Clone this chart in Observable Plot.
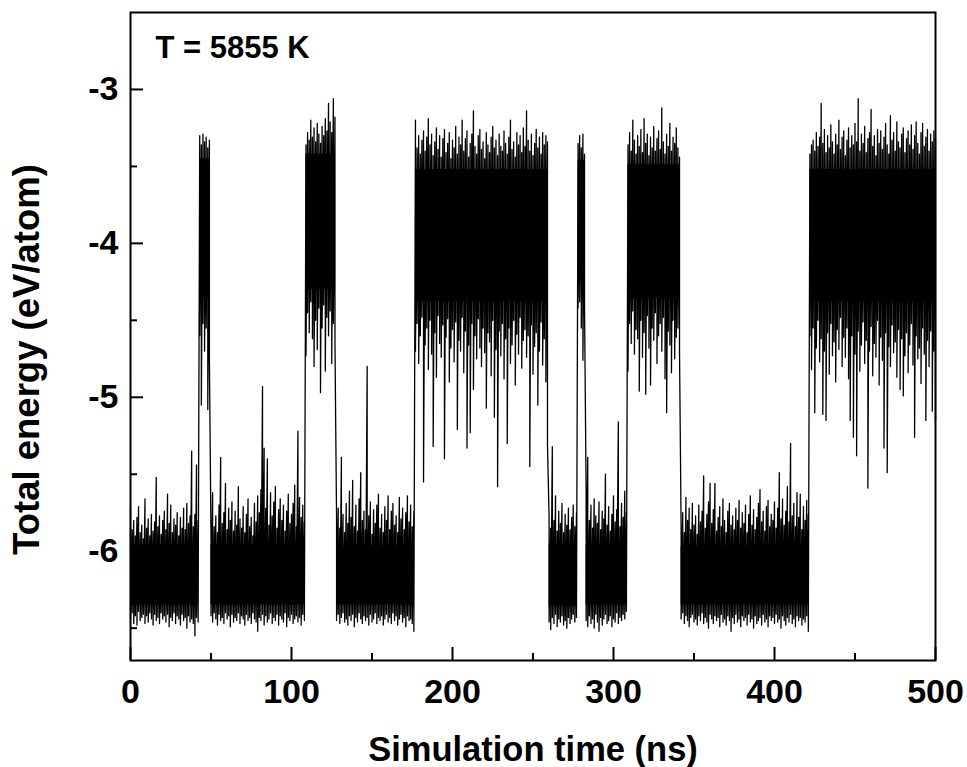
<!DOCTYPE html>
<html>
<head>
<meta charset="utf-8">
<script src="https://cdn.jsdelivr.net/npm/d3@7"></script>
<script src="https://cdn.jsdelivr.net/npm/@observablehq/plot@0.6"></script>
<style>
  html, body { margin: 0; padding: 0; background: #fff; }
  #chart svg { display: block; }
</style>
</head>
<body>
<div id="chart"></div>
<script>
// ---- Data (1 ns sampling; each sample = max & min of the trace in that ns) ----
// Segments alternate low state (~ -6.15 eV/atom) and high state (~ -3.9 eV/atom)
const segmentStart = [0, 43, 50, 109, 128, 177, 260, 278, 283, 309, 342, 422];
const segmentEnd   = [42, 49, 108, 127, 176, 259, 277, 282, 308, 341, 421, 500];
// Dense (solid black) core of each segment
const coreTop    = [-5.96, -3.45, -5.96, -3.42, -5.97, -3.52, -5.96, -3.46, -5.96, -3.49, -5.97, -3.52];
const coreBottom = [-6.35, -4.35, -6.35, -4.30, -6.35, -4.38, -6.36, -4.26, -6.35, -4.36, -6.35, -4.38];

// Upper envelope per segment (eV/atom)
const upperEnvelope = [
  // 0–42 (low)
  [-5.72,-5.86,-5.80,-5.90,-5.78,-5.71,-5.88,-5.83,-5.92,-5.66,
   -5.85,-5.79,-5.90,-5.76,-5.87,-5.81,-5.52,-5.84,-5.77,-5.89,
   -5.80,-5.74,-5.86,-5.63,-5.82,-5.70,-5.88,-5.79,-5.83,-5.75,
   -5.90,-5.78,-5.85,-5.72,-5.86,-5.69,-5.82,-5.77,-5.35,-5.84,
   -5.76,-5.44,-5.80],
  // 43–49 (high)
  [-3.30,-3.36,-3.29,-3.34,-3.31,-3.38,-3.33],
  // 50–108 (low)
  [-5.90,-5.62,-5.84,-5.77,-5.88,-5.70,-5.39,-5.82,-5.75,-5.56,
   -5.86,-5.72,-5.80,-5.68,-5.87,-5.74,-5.83,-5.58,-5.79,-5.85,
   -5.71,-5.88,-5.76,-5.66,-5.84,-5.78,-5.90,-5.69,-5.81,-5.64,
   -5.75,-5.60,-4.93,-5.33,-5.72,-5.40,-5.83,-5.62,-5.77,-5.68,
   -5.58,-5.85,-5.73,-5.66,-5.80,-5.70,-5.87,-5.74,-5.63,-5.82,
   -5.76,-5.69,-5.57,-5.84,-5.22,-5.65,-5.78,-5.70,-5.81],
  // 109–127 (high)
  [-3.36,-3.28,-3.33,-3.20,-3.31,-3.25,-3.34,-3.22,-3.29,-3.35,
   -3.24,-3.30,-3.19,-3.27,-3.09,-3.21,-3.28,-3.06,-3.18],
  // 128–176 (low)
  [-5.80,-5.72,-5.85,-5.39,-5.76,-5.88,-5.69,-5.82,-5.61,-5.78,
   -5.54,-5.84,-5.70,-5.87,-5.66,-5.49,-5.80,-5.74,-5.86,-4.80,
   -5.77,-5.68,-5.89,-5.73,-5.82,-5.70,-5.63,-5.85,-5.76,-5.88,
   -5.71,-5.80,-5.64,-5.86,-5.74,-5.69,-5.83,-5.77,-5.88,-5.65,
   -5.79,-5.72,-5.86,-5.75,-5.64,-5.81,-5.70,-5.84,-5.74],
  // 177–259 (high)
  [-3.20,-3.38,-3.30,-3.42,-3.33,-3.27,-3.40,-3.31,-3.19,-3.36,
   -3.29,-3.43,-3.34,-3.25,-3.39,-3.30,-3.44,-3.32,-3.26,-3.41,
   -3.35,-3.28,-3.45,-3.33,-3.38,-3.24,-3.42,-3.31,-3.36,-3.20,
   -3.40,-3.32,-3.27,-3.44,-3.35,-3.29,-3.14,-3.37,-3.42,-3.30,
   -3.26,-3.39,-3.34,-3.45,-3.28,-3.36,-3.41,-3.31,-3.24,-3.38,
   -3.33,-3.43,-3.29,-3.37,-3.40,-3.27,-3.35,-3.42,-3.31,-3.20,
   -3.39,-3.34,-3.44,-3.28,-3.36,-3.30,-3.41,-3.25,-3.37,-3.14,
   -3.33,-3.40,-3.29,-3.43,-3.35,-3.26,-3.38,-3.31,-3.42,-3.28,
   -3.36,-3.30,-3.34],
  // 260–277 (low)
  [-5.78,-5.85,-5.32,-5.80,-5.64,-5.87,-5.74,-5.82,-5.69,-5.88,
   -5.76,-5.83,-5.72,-5.86,-5.78,-5.70,-5.84,-5.75],
  // 278–282 (high)
  [-3.35,-3.30,-3.38,-3.29,-3.42],
  // 283–308 (low)
  [-5.62,-5.39,-5.80,-5.70,-5.85,-5.66,-5.77,-5.82,-5.68,-5.86,
   -5.74,-5.79,-5.50,-5.83,-5.71,-5.87,-5.76,-5.64,-5.81,-5.73,
   -5.16,-5.84,-5.69,-5.78,-5.61,-5.75],
  // 309–341 (high)
  [-3.36,-3.28,-3.40,-3.20,-3.33,-3.42,-3.30,-3.37,-3.26,-3.41,
   -3.19,-3.35,-3.29,-3.43,-3.31,-3.38,-3.24,-3.40,-3.32,-3.27,
   -3.39,-3.12,-3.34,-3.42,-3.29,-3.37,-3.22,-3.40,-3.31,-3.35,
   -3.25,-3.38,-3.44],
  // 342–421 (low)
  [-5.84,-5.75,-5.88,-5.65,-5.80,-5.72,-5.86,-5.69,-5.83,-5.77,
   -5.89,-5.70,-5.81,-5.74,-5.51,-5.85,-5.76,-5.68,-5.56,-5.82,
   -5.73,-5.56,-5.87,-5.78,-5.71,-5.84,-5.66,-5.80,-5.88,-5.74,
   -5.69,-5.83,-5.77,-5.86,-5.72,-5.80,-5.67,-5.85,-5.75,-5.82,
   -5.70,-5.88,-5.76,-5.64,-5.83,-5.73,-5.86,-5.78,-5.69,-5.60,
   -5.81,-5.74,-5.87,-5.71,-5.67,-5.84,-5.76,-5.80,-5.68,-5.85,
   -5.72,-5.49,-5.79,-5.66,-5.83,-5.74,-5.58,-5.81,-5.30,-5.77,
   -5.69,-5.84,-5.62,-5.78,-5.63,-5.86,-5.71,-5.80,-5.67,-5.76],
  // 422–500 (high)
  [-3.42,-3.36,-3.33,-3.40,-3.28,-3.37,-3.31,-3.09,-3.35,-3.26,
   -3.41,-3.30,-3.38,-3.23,-3.34,-3.42,-3.29,-3.36,-3.20,-3.39,
   -3.31,-3.27,-3.43,-3.33,-3.25,-3.38,-3.30,-3.36,-3.22,-3.34,
   -3.06,-3.40,-3.29,-3.35,-3.24,-3.41,-3.32,-3.28,-3.13,-3.37,
   -3.30,-3.43,-3.26,-3.35,-3.27,-3.39,-3.31,-3.22,-3.36,-3.42,
   -3.17,-3.33,-3.28,-3.40,-3.21,-3.34,-3.38,-3.29,-3.25,-3.41,
   -3.32,-3.27,-3.36,-3.23,-3.39,-3.30,-3.21,-3.35,-3.42,-3.28,
   -3.22,-3.37,-3.31,-3.26,-3.40,-3.29,-3.34,-3.27,-3.32]
];

// Lower envelope per segment (eV/atom)
const lowerEnvelope = [
  [-6.44,-6.40,-6.47,-6.42,-6.48,-6.39,-6.45,-6.43,-6.41,-6.47,
   -6.42,-6.46,-6.40,-6.44,-6.48,-6.41,-6.45,-6.43,-6.47,-6.40,
   -6.44,-6.42,-6.46,-6.41,-6.49,-6.43,-6.45,-6.40,-6.47,-6.42,
   -6.44,-6.48,-6.41,-6.45,-6.43,-6.50,-6.42,-6.46,-6.44,-6.47,
   -6.55,-6.43,-6.46],
  [-4.60,-5.05,-4.52,-4.70,-4.55,-5.08,-4.75],
  [-6.42,-6.46,-6.40,-6.44,-6.48,-6.41,-6.45,-6.43,-6.47,-6.40,
   -6.44,-6.42,-6.49,-6.41,-6.46,-6.43,-6.45,-6.40,-6.47,-6.42,
   -6.44,-6.48,-6.41,-6.45,-6.43,-6.47,-6.40,-6.44,-6.46,-6.52,
   -6.43,-6.45,-6.41,-6.48,-6.42,-6.46,-6.44,-6.40,-6.47,-6.43,
   -6.45,-6.41,-6.48,-6.42,-6.44,-6.46,-6.40,-6.49,-6.43,-6.45,
   -6.41,-6.47,-6.44,-6.42,-6.46,-6.43,-6.48,-6.41,-6.45],
  [-4.73,-4.45,-4.58,-4.38,-4.62,-4.80,-4.50,-4.69,-4.42,-4.97,
   -4.55,-4.40,-4.83,-4.48,-4.60,-4.44,-4.78,-4.52,-4.65],
  [-6.45,-6.41,-6.47,-6.43,-6.40,-6.46,-6.44,-6.48,-6.42,-6.45,
   -6.41,-6.49,-6.43,-6.46,-6.40,-6.44,-6.47,-6.42,-6.45,-6.43,
   -6.48,-6.41,-6.46,-6.44,-6.40,-6.47,-6.43,-6.45,-6.42,-6.48,
   -6.44,-6.41,-6.46,-6.43,-6.47,-6.40,-6.45,-6.42,-6.48,-6.44,
   -6.41,-6.46,-6.43,-6.49,-6.42,-6.45,-6.44,-6.47,-6.52],
  [-4.70,-4.52,-4.78,-4.60,-4.48,-5.55,-4.66,-4.55,-4.82,-4.50,
   -4.72,-5.32,-4.58,-4.87,-4.47,-4.65,-4.74,-4.53,-5.40,-4.61,
   -4.49,-4.90,-4.68,-4.56,-4.77,-4.51,-5.21,-4.63,-4.70,-4.48,
   -4.84,-4.57,-5.33,-4.66,-5.23,-4.52,-4.95,-4.60,-4.75,-4.49,
   -4.68,-4.80,-4.55,-4.71,-5.07,-4.58,-4.64,-4.86,-4.50,-5.13,
   -4.69,-5.58,-4.57,-4.73,-4.52,-4.88,-4.62,-5.30,-4.55,-4.78,
   -4.66,-4.50,-4.92,-4.59,-4.72,-4.48,-4.81,-4.63,-4.56,-4.74,
   -4.60,-5.45,-4.53,-4.85,-4.67,-4.58,-5.05,-4.70,-4.51,-4.79,
   -4.62,-4.90,-5.31],
  [-6.46,-6.51,-6.43,-6.47,-6.41,-6.49,-6.44,-6.46,-6.42,-6.48,
   -6.45,-6.50,-6.43,-6.47,-6.44,-6.41,-6.46,-6.43],
  [-4.42,-4.38,-4.55,-4.76,-4.40],
  [-6.45,-6.49,-6.42,-6.47,-6.44,-6.50,-6.41,-6.46,-6.52,-6.43,
   -6.48,-6.44,-6.41,-6.47,-6.45,-6.42,-6.49,-6.44,-6.46,-6.40,
   -6.47,-6.43,-6.45,-6.41,-6.44,-6.39],
  [-4.83,-4.52,-4.65,-4.44,-4.72,-4.56,-4.62,-4.96,-4.50,-4.74,
   -4.58,-4.98,-4.47,-4.68,-4.92,-4.55,-4.63,-4.45,-4.78,-4.60,
   -4.52,-4.70,-4.48,-4.88,-5.10,-4.57,-4.66,-4.84,-4.50,-4.75,
   -4.61,-4.55,-4.70],
  [-6.44,-6.40,-6.47,-6.42,-6.45,-6.49,-6.43,-6.41,-6.46,-6.44,
   -6.48,-6.42,-6.45,-6.40,-6.47,-6.43,-6.46,-6.50,-6.41,-6.44,
   -6.47,-6.42,-6.45,-6.43,-6.49,-6.41,-6.46,-6.44,-6.48,-6.42,
   -6.45,-6.52,-6.43,-6.47,-6.41,-6.46,-6.44,-6.49,-6.42,-6.45,
   -6.43,-6.48,-6.41,-6.46,-6.44,-6.50,-6.42,-6.47,-6.45,-6.43,
   -6.48,-6.41,-6.46,-6.44,-6.49,-6.42,-6.45,-6.43,-6.47,-6.41,
   -6.46,-6.44,-6.50,-6.42,-6.45,-6.48,-6.43,-6.46,-6.41,-6.47,
   -6.44,-6.49,-6.42,-6.45,-6.43,-6.48,-6.44,-6.46,-6.42,-6.52],
  [-4.60,-4.82,-4.55,-5.10,-4.68,-4.50,-4.77,-4.62,-5.11,-4.70,
   -5.15,-4.58,-4.85,-4.52,-4.73,-4.64,-4.90,-4.56,-4.69,-4.48,
   -4.80,-4.61,-4.74,-4.55,-4.88,-5.15,-4.60,-5.26,-4.72,-5.38,
   -4.57,-4.83,-4.66,-4.51,-4.78,-4.63,-5.59,-4.70,-4.54,-4.86,
   -4.65,-4.74,-4.50,-4.92,-4.61,-4.76,-5.33,-4.58,-5.49,-4.67,
   -4.80,-4.53,-4.71,-4.64,-4.87,-4.56,-4.95,-4.62,-4.99,-4.73,
   -4.58,-4.84,-4.66,-4.52,-4.79,-5.26,-4.60,-4.75,-4.68,-4.91,
   -4.55,-4.72,-5.15,-4.63,-4.80,-4.57,-5.09,-4.70,-5.15]
];

// Axis ticks and labels
const xMajorTicks = [0, 100, 200, 300, 400, 500];
const xMinorTicks = [50, 150, 250, 350, 450];
const yMajorTicks = [-3, -4, -5, -6];
const yMinorTicks = [-3.5, -4.5, -5.5, -6.5];
const xTitle = "Simulation time (ns)";
const yTitle = "Total energy (eV/atom)";
const annotation = "T = 5855 K";

// Build the trace: at each sampled time the curve swings from its max to its min
const trace = [];
segmentStart.forEach((start, k) => {
  upperEnvelope[k].forEach((u, i) => {
    trace.push({time: start + i, energy: u});
    trace.push({time: start + i, energy: lowerEnvelope[k][i]});
  });
});
const cores = segmentStart.map((s, k) => ({x1: s, x2: segmentEnd[k], y1: coreBottom[k], y2: coreTop[k]}));

const W = 967, H = 767;
const mL = 130, mR = 32, mT = 12, mB = 107;
const frameW = W - mL - mR, frameH = H - mT - mB;
const fontFamily = "'Liberation Sans', Arial, Helvetica, sans-serif";

const chart = Plot.plot({
  width: W,
  height: H,
  marginLeft: mL,
  marginRight: mR,
  marginTop: mT,
  marginBottom: mB,
  style: {fontFamily, background: "#fff", color: "#000"},
  x: {domain: [0, 500]},
  y: {domain: [-6.71, -2.5]},
  marks: [
    Plot.rect(cores, {x1: "x1", x2: "x2", y1: "y1", y2: "y2", fill: "#000"}),
    Plot.line(trace, {x: "time", y: "energy", stroke: "#000", strokeWidth: 1.3}),
    Plot.frame({stroke: "#000", strokeWidth: 2}),
    // inward ticks (drawn as short rules at the bottom and left edges of the frame)
    Plot.ruleX(xMajorTicks, {x: d => d, insetTop: frameH - 13, stroke: "#000", strokeWidth: 2}),
    Plot.ruleX(xMinorTicks, {x: d => d, insetTop: frameH - 7, stroke: "#000", strokeWidth: 2}),
    Plot.ruleY(yMajorTicks, {y: d => d, insetRight: frameW - 13, stroke: "#000", strokeWidth: 2}),
    Plot.ruleY(yMinorTicks, {y: d => d, insetRight: frameW - 7, stroke: "#000", strokeWidth: 2}),
    // tick labels
    Plot.axisX(xMajorTicks, {anchor: "bottom", tickSize: 0, tickPadding: 18, fontSize: 34, fontWeight: "bold",
      tickFormat: d => String(d), label: null}),
    Plot.axisY(yMajorTicks, {anchor: "left", tickSize: 0, tickPadding: 12, fontSize: 34, fontWeight: "bold",
      tickFormat: d => String(d), label: null}),
    // titles
    Plot.text([xTitle], {frameAnchor: "bottom", dy: 100, textAnchor: "middle", lineAnchor: "bottom", fontSize: 34.5, fontWeight: "bold"}),
    Plot.text([yTitle], {frameAnchor: "left", dx: -103, dy: 23, rotate: -90, textAnchor: "middle", lineAnchor: "middle", fontSize: 36.5, fontWeight: "bold"}),
    Plot.text([annotation], {frameAnchor: "top-left", dx: 25, dy: 23, textAnchor: "start", lineAnchor: "top", fontSize: 31, fontWeight: "bold"})
  ]
});

document.getElementById("chart").appendChild(chart);
</script>
</body>
</html>
